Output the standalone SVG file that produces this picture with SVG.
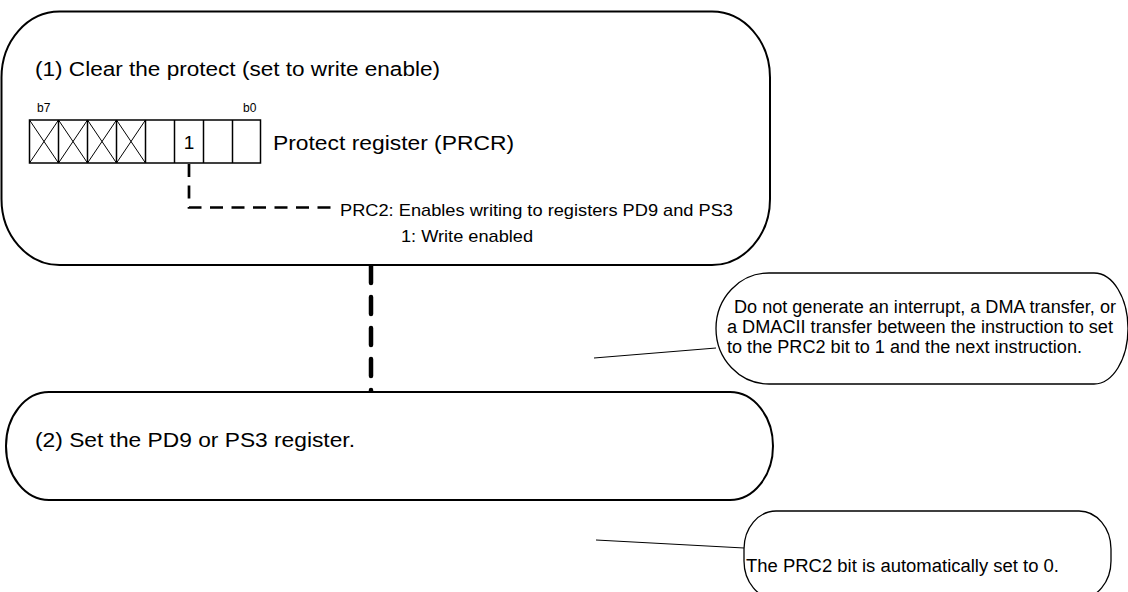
<svg xmlns="http://www.w3.org/2000/svg" width="1128" height="592" viewBox="0 0 1128 592">
<style>
.box{fill:#fff;stroke:#000;stroke-width:2}
.call{fill:#fff;stroke:#000;stroke-width:1.3}
.t{font-family:"Liberation Sans",Arial,sans-serif;fill:#000}
.cell{fill:#fff;stroke:#000;stroke-width:1.5}
.x{stroke:#000;stroke-width:1}
.v{stroke:#000;stroke-width:1.5}
</style>
<rect width="1128" height="592" fill="#fff"/>
<g id="connectors">
<line x1="371" y1="266" x2="371" y2="392" stroke="#000" stroke-width="4.5" stroke-dasharray="17 14" stroke-linecap="round"/>
<line x1="594" y1="358" x2="716" y2="348" stroke="#000" stroke-width="1"/>
<line x1="596" y1="540" x2="744" y2="548" stroke="#000" stroke-width="1"/>
</g>
<g id="step1">
<rect class="box" x="1.5" y="11.5" width="768.5" height="253.5" rx="58" ry="66"/>
<text class="t" x="35" y="76" font-size="20" textLength="405" lengthAdjust="spacingAndGlyphs">(1) Clear the protect (set to write enable)</text>
<text class="t" x="37" y="112" font-size="12">b7</text>
<text class="t" x="243" y="112" font-size="12">b0</text>
<g id="register">
<rect class="cell" x="29.5" y="120" width="231" height="43"/>
<line class="v" x1="58.5" y1="120" x2="58.5" y2="163"/>
<line class="v" x1="87.5" y1="120" x2="87.5" y2="163"/>
<line class="v" x1="116.5" y1="120" x2="116.5" y2="163"/>
<line class="v" x1="145.5" y1="120" x2="145.5" y2="163"/>
<line class="v" x1="174.5" y1="120" x2="174.5" y2="163"/>
<line class="v" x1="203.5" y1="120" x2="203.5" y2="163"/>
<line class="v" x1="232.5" y1="120" x2="232.5" y2="163"/>
<path class="x" fill="none" d="M29.5 120L58.5 163M58.5 120L29.5 163M58.5 120L87.5 163M87.5 120L58.5 163M87.5 120L116.5 163M116.5 120L87.5 163M116.5 120L145.5 163M145.5 120L116.5 163"/>
<text class="t" x="189" y="148.5" font-size="19" text-anchor="middle">1</text>
</g>
<text class="t" x="273" y="150" font-size="21" textLength="241" lengthAdjust="spacingAndGlyphs">Protect register (PRCR)</text>
<path d="M189 164V207.5H334" fill="none" stroke="#000" stroke-width="2.7" stroke-dasharray="13 8.5"/>
<text class="t" x="340" y="216" font-size="17" textLength="393" lengthAdjust="spacingAndGlyphs">PRC2: Enables writing to registers PD9 and PS3</text>
<text class="t" x="401" y="241.5" font-size="17" textLength="132" lengthAdjust="spacingAndGlyphs">1: Write enabled</text>
</g>
<g id="step2">
<rect class="box" x="6" y="392" width="767" height="108" rx="43" ry="54"/>
<text class="t" x="35" y="447" font-size="20" textLength="320" lengthAdjust="spacingAndGlyphs">(2) Set the PD9 or PS3 register.</text>
</g>
<g id="note1">
<path class="call" d="M769 273H1094A34 55.5 0 0 1 1094 384H769A53 55.5 0 0 1 769 273Z"/>
<text class="t" x="734" y="313" font-size="18" textLength="382" lengthAdjust="spacingAndGlyphs">Do not generate an interrupt, a DMA transfer, or</text>
<text class="t" x="727" y="333" font-size="18" textLength="386" lengthAdjust="spacingAndGlyphs">a DMACII transfer between the instruction to set</text>
<text class="t" x="727" y="353" font-size="18" textLength="355" lengthAdjust="spacingAndGlyphs">to the PRC2 bit to 1 and the next instruction.</text>
</g>
<g id="note2">
<rect class="call" x="744" y="511" width="367" height="88" rx="32" ry="38"/>
<text class="t" x="746" y="572" font-size="18" textLength="313" lengthAdjust="spacingAndGlyphs">The PRC2 bit is automatically set to 0.</text>
</g>
</svg>
